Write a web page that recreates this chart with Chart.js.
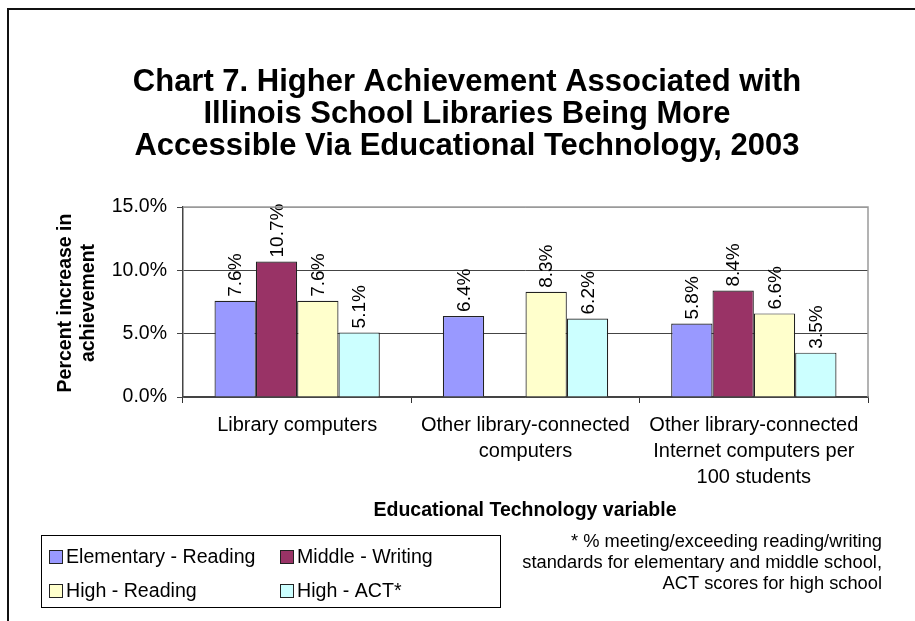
<!DOCTYPE html>
<html>
<head>
<meta charset="utf-8">
<script src="https://cdn.jsdelivr.net/npm/chart.js@4"></script>
<style>
  html, body { margin: 0; padding: 0; background: #fff; }
  #wrap { width: 915px; height: 621px; position: relative; }
  canvas { display: block; }
</style>
</head>
<body>
<div id="wrap"><canvas id="c" width="915" height="621" style="width:915px;height:621px"></canvas></div>
<script>
const categories = [
  ["Library computers"],
  ["Other library-connected", "computers"],
  ["Other library-connected", "Internet computers per", "100 students"]
];
const seriesNames = ["Elementary - Reading", "Middle - Writing", "High - Reading", "High - ACT*"];
const elementaryReading = [7.6, 6.4, 5.8];
const middleWriting = [10.7, null, 8.4];
const highReading = [7.6, 8.3, 6.6];
const highACT = [5.1, 6.2, 3.5];
const yTickValues = [0, 5, 10, 15];
const titleLines = [
  "Chart 7. Higher Achievement Associated with",
  "Illinois School Libraries Being More",
  "Accessible Via Educational Technology, 2003"
];
const yAxisTitle = ["Percent increase in", "achievement"];
const xAxisTitle = "Educational Technology variable";
const noteLines = [
  "* % meeting/exceeding reading/writing",
  "standards for elementary and middle school,",
  "ACT scores for high school"
];

const colors = ["#9999FF", "#993366", "#FFFFCC", "#CCFFFF"];
const FONT = "'Liberation Sans', Arial, Helvetica, sans-serif";
Chart.defaults.font.family = FONT;
Chart.defaults.color = "#000";

const seriesValues = [elementaryReading, middleWriting, highReading, highACT];

const decorPlugin = {
  id: 'decor',
  afterDatasetsDraw(chart) {
    const ctx = chart.ctx;
    ctx.save();
    ctx.font = "19px " + FONT;
    ctx.fillStyle = "#000";
    ctx.textAlign = "left";
    ctx.textBaseline = "middle";
    chart.data.datasets.forEach((ds, i) => {
      const meta = chart.getDatasetMeta(i);
      meta.data.forEach((el, j) => {
        const v = ds.data[j];
        if (v === null || v === undefined) return;
        ctx.save();
        ctx.translate(el.x, el.y - 4);
        ctx.rotate(-Math.PI / 2);
        ctx.fillText(v.toFixed(1) + "%", 0, 1);
        ctx.restore();
      });
    });
    ctx.restore();
  },
  afterDraw(chart) {
    const ctx = chart.ctx;
    const a = chart.chartArea;
    ctx.save();
    // plot area border top/right (grey)
    ctx.strokeStyle = "#9a9a9a";
    ctx.lineWidth = 1.5;
    ctx.beginPath();
    ctx.moveTo(a.left, a.top);
    ctx.lineTo(a.right, a.top);
    ctx.lineTo(a.right, a.bottom);
    ctx.stroke();

    // outer frame
    ctx.strokeStyle = "#111";
    ctx.lineWidth = 2;
    ctx.beginPath();
    ctx.moveTo(8, 621);
    ctx.lineTo(8, 9);
    ctx.lineTo(915, 9);
    ctx.stroke();

    // title
    ctx.fillStyle = "#000";
    ctx.textAlign = "center";
    ctx.textBaseline = "alphabetic";
    ctx.font = "bold 31px " + FONT;
    const tb = [91, 123, 155];
    titleLines.forEach((t, i) => ctx.fillText(t, 467, tb[i]));

    // y axis title
    ctx.font = "bold 19.5px " + FONT;
    ctx.save();
    ctx.translate(66, 303);
    ctx.rotate(-Math.PI / 2);
    ctx.textBaseline = "middle";
    ctx.fillText(yAxisTitle[0], 0, 0);
    ctx.fillText(yAxisTitle[1], 0, 23);
    ctx.restore();

    // x axis title
    ctx.textBaseline = "middle";
    ctx.fillText(xAxisTitle, 525, 511);

    // note
    ctx.font = "18.3px " + FONT;
    ctx.textAlign = "right";
    noteLines.forEach((t, i) => ctx.fillText(t, 882, 542 + i * 21));

    // legend
    ctx.strokeStyle = "#000";
    ctx.lineWidth = 1;
    ctx.strokeRect(41.5, 535.5, 459, 72);
    const pos = [[49, 557], [280, 557], [49, 591], [280, 591]];
    ctx.font = "19.6px " + FONT;
    ctx.textAlign = "left";
    seriesNames.forEach((n, i) => {
      const [x, y] = pos[i];
      ctx.fillStyle = colors[i];
      ctx.fillRect(x + 0.5, y - 6.5, 13, 13);
      ctx.strokeStyle = "#222";
      ctx.strokeRect(x + 0.5, y - 6.5, 13, 13);
      ctx.fillStyle = "#000";
      ctx.fillText(n, x + 17, y + 1);
    });
    ctx.restore();
  }
};

new Chart(document.getElementById('c'), {
  type: 'bar',
  data: {
    labels: categories,
    datasets: seriesNames.map((n, i) => ({
      label: n,
      data: seriesValues[i],
      backgroundColor: colors[i],
      borderColor: "#222",
      borderWidth: 1.2,
      categoryPercentage: 0.724,
      barPercentage: 1.0
    }))
  },
  options: {
    responsive: false,
    animation: false,
    devicePixelRatio: 1,
    layout: { padding: { top: 207, left: 0, right: 47, bottom: 0 } },
    plugins: { legend: { display: false }, title: { display: false }, tooltip: { enabled: false } },
    scales: {
      x: {
        afterFit(scale) { scale.height = 224; },
        grid: { drawOnChartArea: false, drawTicks: true, tickLength: 6, color: "#333", offset: true },
        border: { display: true, color: "#444", width: 1.5 },
        ticks: { font: { size: 20, lineHeight: 1.28 }, color: "#000", padding: 10, maxRotation: 0, minRotation: 0, autoSkip: false }
      },
      y: {
        min: 0, max: 15,
        afterFit(scale) { scale.width = 183; },
        afterBuildTicks(scale) { scale.ticks = yTickValues.map(v => ({ value: v })); },
        grid: {
          color: (c) => (c.tick && c.tick.value === 15) ? "#9a9a9a" : "#444",
          tickColor: "#444",
          tickLength: 6,
          drawTicks: true
        },
        border: { display: true, color: "#444", width: 1.5 },
        ticks: { font: { size: 19.5 }, color: "#000", padding: 10, callback: (v) => v.toFixed(1) + "%" }
      }
    }
  },
  plugins: [decorPlugin]
});
</script>
</body>
</html>
